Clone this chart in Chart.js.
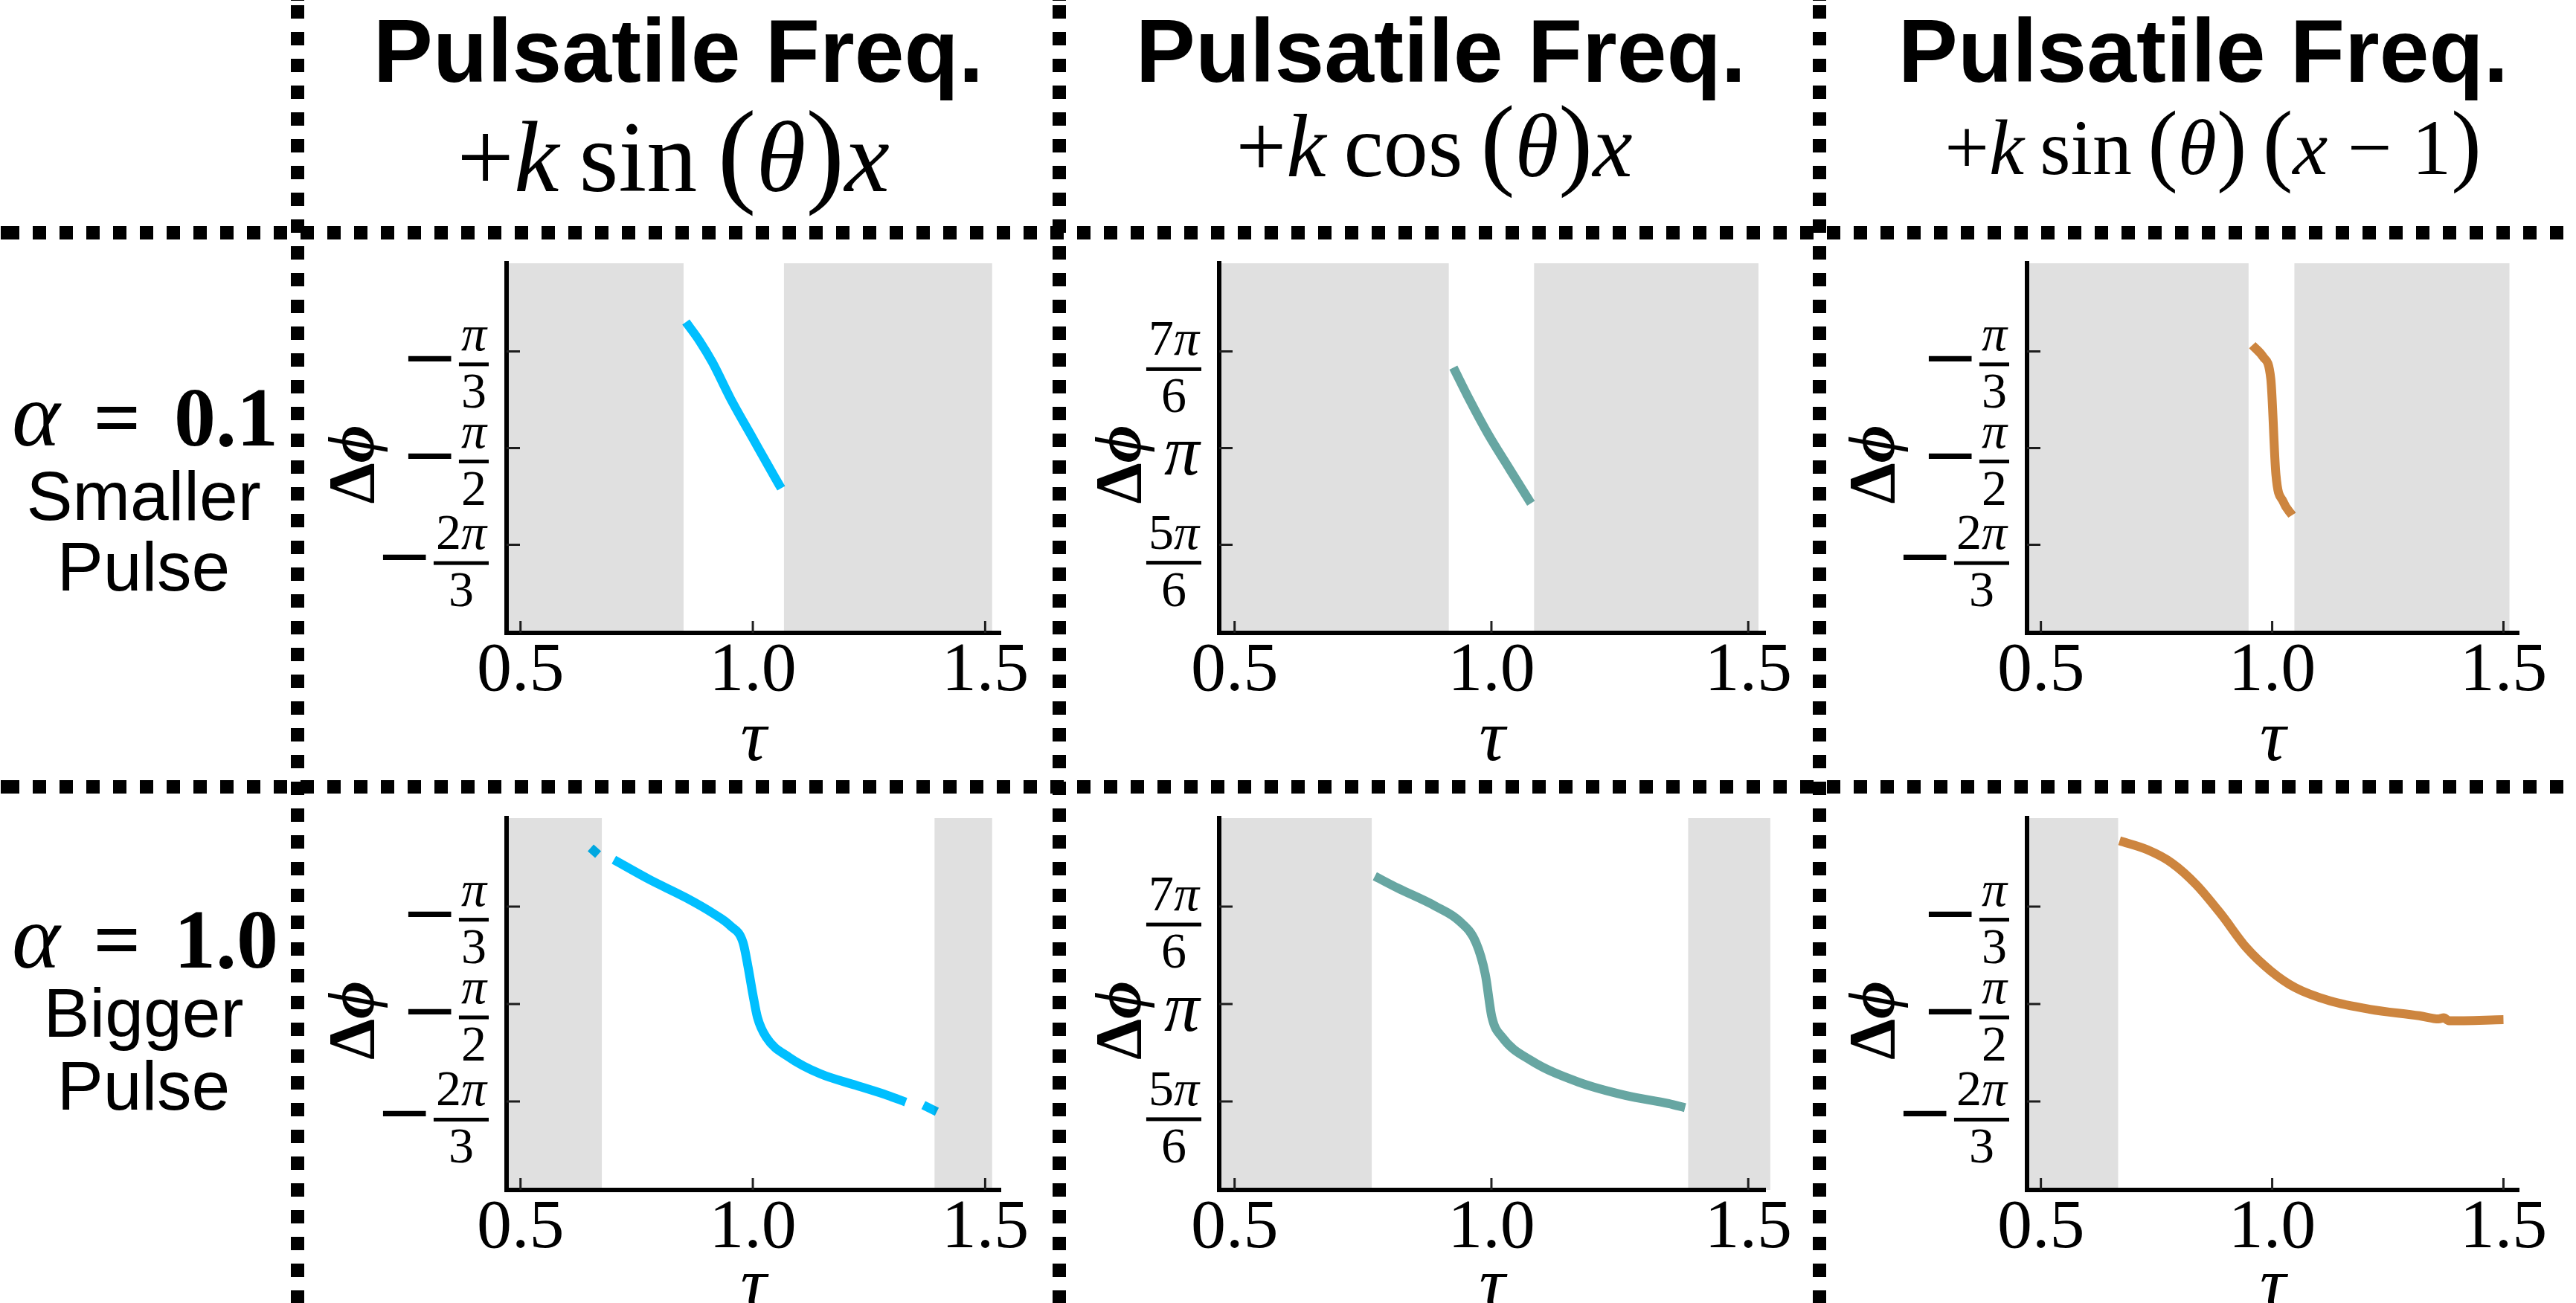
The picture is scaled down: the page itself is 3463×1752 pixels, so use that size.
<!DOCTYPE html>
<html>
<head>
<meta charset="utf-8">
<script src="https://cdn.jsdelivr.net/npm/chart.js@4.4.1/dist/chart.umd.min.js"></script>
<style>
  html, body { margin: 0; padding: 0; background: #fff; overflow: hidden; }
  #fig { position: relative; width: 3463px; height: 1752px; overflow: hidden; background: #fff; }
  #fig canvas { position: absolute; }
  .txt { position: absolute; white-space: nowrap; color: #000; transform: translateX(-50%); }
  .big { font-size: 1.15em; line-height: 0; }
  .vdot { position: absolute; top: 0; width: 18px; height: 1752px; z-index: 5;
          background: repeating-linear-gradient(to bottom, #000 0 18px, transparent 18px 36px);
          background-position: 0 7px; }
  .hdot { position: absolute; left: 0; width: 3463px; height: 18px; z-index: 5;
          background: repeating-linear-gradient(to right, #000 0 18px, transparent 18px 36px);
          background-position: 8px 0; }
</style>
</head>
<body>
<div id="fig"></div>
<script>
const PI = Math.PI;

// tau (x) and phase difference in radians (y)
const tauSinSmall = [0.856, 0.885, 0.913, 0.952, 1.000, 1.048, 1.061];
const phiSinSmall = [-0.889, -0.990, -1.107, -1.303, -1.518, -1.732, -1.788];
const tauCosSmall = [0.926, 0.957, 0.993, 1.035, 1.077];
const phiCosSmall = [3.577, 3.405, 3.220, 3.030, 2.843];
const tauShiftSmall = [0.957, 0.981, 0.997, 1.008, 1.024, 1.043];
const phiShiftSmall = [-1.014, -1.079, -1.196, -1.712, -1.861, -1.934];

const tauSinBig = [0.651, 0.667, 0.684, 0.701, 0.778, 0.856, 0.913, 0.952, 0.979, 0.990, 1.000,
                   1.010, 1.029, 1.078, 1.145, 1.222, 1.290, 1.329, 1.348, 1.367, 1.396];
const phiSinBig = [-0.731, -0.767, null, -0.795, -0.902, -0.999, -1.081, -1.151, -1.241, -1.375, -1.518,
                   -1.643, -1.750, -1.857, -1.946, -2.008, -2.062, -2.098, null, -2.114, -2.150];
const tauCosBig = [0.773, 0.817, 0.891, 0.938, 0.970, 0.988, 1.001, 1.021, 1.077, 1.169, 1.261, 1.345, 1.377];
const phiCosBig = [3.829, 3.766, 3.668, 3.587, 3.471, 3.302, 3.070, 2.963, 2.838, 2.722, 2.650, 2.606, 2.584];
const tauShiftBig = [0.670, 0.730, 0.783, 0.836, 0.890, 0.944, 0.997, 1.050, 1.125, 1.211, 1.318, 1.360, 1.371, 1.382, 1.500];
const phiShiftBig = [-0.693, -0.741, -0.812, -0.929, -1.089, -1.267, -1.393, -1.483, -1.554, -1.599, -1.634, -1.651, -1.645, -1.661, -1.655];

// shaded (grey) tau ranges
const greySinSmall = [[0.47, 0.851], [1.067, 1.515]];
const greyCosSmall = [[0.47, 0.917], [1.083, 1.520]];
const greyShiftSmall = [[0.47, 0.949], [1.048, 1.513]];
const greySinBig = [[0.47, 0.675], [1.391, 1.515]];
const greyCosBig = [[0.47, 0.767], [1.383, 1.543]];
const greyShiftBig = [[0.47, 0.667]];

const tauTicks = [0.5, 1.0, 1.5];
const sinTicks = [-PI / 3, -PI / 2, -2 * PI / 3];
const sinTickLabels = ['−π/3', '−π/2', '−2π/3'];
const cosTicks = [7 * PI / 6, PI, 5 * PI / 6];
const cosTickLabels = ['7π/6', 'π', '5π/6'];

const colTitle = 'Pulsatile Freq.';
const colFormulas = [
  '+<i>k</i>&thinsp;sin&thinsp;<span class="big">(</span><i>θ</i><span class="big">)</span><i>x</i>',
  '+<i>k</i>&thinsp;cos&thinsp;<span class="big">(</span><i>θ</i><span class="big">)</span><i>x</i>',
  '+<i>k</i>&thinsp;sin&thinsp;<span class="big">(</span><i>θ</i><span class="big">)</span>&thinsp;<span class="big">(</span><i>x</i> − 1<span class="big">)</span>'
];
const rowAlphas = ['0.1', '1.0'];
const rowNames = [['Smaller', 'Pulse'], ['Bigger', 'Pulse']];

const lineColors = ['#00bfff', '#67a6a2', '#cd853f'];

// page layout (pixels)
const colCanvas = [[410, 1415], [1434, 2437], [2456, 3460]];
const colArea = [[681, 1345], [1639, 2373], [2725, 3386]];
const rowCanvas = [[323, 1048], [1068, 1752]];
const rowArea = [[354, 851], [1100, 1600]];
const colCenters = [912, 1937, 2962];
const formulaPos = [[905, 257, 136], [1928, 237, 120], [2975, 235, 106]];
const labelGap = [200, 127, 200];
const tauLabelOff = [149, 136];

const fig = document.getElementById('fig');

function addText(html, cx, baseline, size, family, extra) {
  const d = document.createElement('div');
  d.className = 'txt';
  d.innerHTML = html;
  const k = family.indexOf('Sans') >= 0 ? 0.8465 : 0.8375;
  d.style.font = (extra || '') + ' ' + size + 'px/1 ' + family;
  d.style.left = cx + 'px';
  d.style.top = (baseline - k * size) + 'px';
  fig.appendChild(d);
}

// dotted separators
[400, 1424, 2446].forEach(x => {
  const d = document.createElement('div');
  d.className = 'vdot';
  d.style.left = (x - 9) + 'px';
  fig.appendChild(d);
});
[313, 1058].forEach(y => {
  const d = document.createElement('div');
  d.className = 'hdot';
  d.style.top = (y - 9) + 'px';
  fig.appendChild(d);
});

// column headers
colCenters.forEach((cx, i) => {
  addText(colTitle, cx, 110, 120, '"Liberation Sans", Arial, sans-serif', 'bold');
  const f = formulaPos[i];
  addText(colFormulas[i], f[0], f[1], f[2], '"Liberation Serif", "DejaVu Serif", serif');
});

// row labels
const rowBase = [[590, 700, 795], [1292, 1395, 1493]];
rowAlphas.forEach((a, r) => {
  addText('<i style="font-size:1.1em">α</i><b style="margin:0 0.4em">=</b><b>' + a + '</b>', 195, rowBase[r][0], 112,
          '"Liberation Serif", "DejaVu Serif", serif');
  addText(rowNames[r][0], 193, rowBase[r][1], 93, '"Liberation Sans", Arial, sans-serif');
  addText(rowNames[r][1], 193, rowBase[r][2], 93, '"Liberation Sans", Arial, sans-serif');
});

const SERIF = '"Liberation Serif", "DejaVu Serif", serif';

function runsOf(s, size) {
  const runs = [];
  const m = s.match(/^(\d*)(π?)$/);
  if (m[1]) runs.push({ t: m[1], f: size + 'px ' + SERIF });
  if (m[2]) runs.push({ t: m[2], f: 'italic ' + size + 'px ' + SERIF });
  return runs;
}

function measureRuns(ctx, runs) {
  let w = 0, asc = 0, desc = 0;
  runs.forEach(r => {
    ctx.font = r.f;
    const m = ctx.measureText(r.t);
    r.w = m.width;
    w += m.width;
    asc = Math.max(asc, m.actualBoundingBoxAscent);
    desc = Math.max(desc, m.actualBoundingBoxDescent);
  });
  return { w, asc, desc };
}

function drawRuns(ctx, runs, cx, baseline) {
  const { w } = measureRuns(ctx, runs);
  let x = cx - w / 2;
  ctx.textAlign = 'left';
  ctx.textBaseline = 'alphabetic';
  runs.forEach(r => {
    ctx.font = r.f;
    ctx.fillText(r.t, x, baseline);
    x += r.w;
  });
}

function drawTickLabel(ctx, label, R, py) {
  ctx.fillStyle = '#000';
  const neg = label.startsWith('−');
  const body = neg ? label.slice(1) : label;
  if (body.indexOf('/') < 0) {
    ctx.font = 'italic 95px ' + SERIF;
    const m = ctx.measureText(body);
    ctx.textAlign = 'left';
    ctx.textBaseline = 'alphabetic';
    ctx.fillText(body, R - m.actualBoundingBoxRight, py + 14 + (m.actualBoundingBoxAscent - m.actualBoundingBoxDescent) / 2);
    return;
  }
  const [num, den] = body.split('/');
  const nr = runsOf(num, 68), dr = runsOf(den, 68);
  const nm = measureRuns(ctx, nr), dm = measureRuns(ctx, dr);
  const barW = Math.max(nm.w, dm.w) + 6;
  const barL = R - barW;
  const cx = R - barW / 2;
  const barY = py + 22 + (20 + nm.asc - 14 - dm.asc - dm.desc) / 2;
  ctx.fillRect(barL, barY - 2.5, barW, 5);
  drawRuns(ctx, nr, cx, barY - 19);
  drawRuns(ctx, dr, cx, barY + 13 + dm.asc);
  if (neg) {
    ctx.font = '92px "DejaVu Serif", serif';
    const m = ctx.measureText('−');
    ctx.textAlign = 'left';
    ctx.textBaseline = 'alphabetic';
    const base = barY - 8 + (m.actualBoundingBoxAscent - m.actualBoundingBoxDescent) / 2;
    ctx.fillText('−', barL - 10 - m.actualBoundingBoxRight, base);
  }
}

function panelPlugin(p) {
  return {
    id: 'panel' + p.row + p.col,
    beforeDatasetsDraw(chart) {
      const { ctx, chartArea: a, scales } = chart;
      ctx.save();
      ctx.strokeStyle = '#222';
      ctx.lineWidth = 3;
      ctx.beginPath();
      tauTicks.forEach(v => {
        const x = scales.x.getPixelForValue(v);
        ctx.moveTo(x, a.bottom);
        ctx.lineTo(x, a.bottom - 16);
      });
      p.yTicks.forEach(v => {
        const y = scales.y.getPixelForValue(v);
        ctx.moveTo(a.left, y);
        ctx.lineTo(a.left + 18, y);
      });
      ctx.stroke();
      ctx.restore();
    },
    afterDatasetsDraw(chart) {
      const { ctx, chartArea: a, scales } = chart;
      ctx.save();
      ctx.fillStyle = 'rgba(0,0,0,0.12)';
      p.grey.forEach(([lo, hi]) => {
        const x1 = Math.max(scales.x.getPixelForValue(lo), a.left + 3);
        const x2 = scales.x.getPixelForValue(hi);
        ctx.fillRect(x1, a.top, x2 - x1, a.bottom - a.top);
      });
      ctx.restore();
    },
    afterDraw(chart) {
      const { ctx, chartArea: a, scales } = chart;
      ctx.save();
      p.yTicks.forEach((v, i) => {
        drawTickLabel(ctx, p.yLabels[i], a.left - 24, scales.y.getPixelForValue(v));
      });
      // y label
      const runs = [{ t: 'Δ', f: 'bold 88px ' + SERIF }, { t: 'ϕ', f: 'bold italic 88px ' + SERIF }];
      const m = measureRuns(ctx, runs);
      ctx.translate(a.left - labelGap[p.col], (a.top + a.bottom) / 2 + 22);
      ctx.rotate(-PI / 2);
      drawRuns(ctx, runs, 0, (m.asc - m.desc) / 2);
      ctx.restore();
      // x label
      ctx.save();
      ctx.font = 'italic 98px ' + SERIF;
      const t = ctx.measureText('τ');
      ctx.fillStyle = '#000';
      ctx.textAlign = 'center';
      ctx.textBaseline = 'alphabetic';
      ctx.fillText('τ', (a.left + a.right) / 2,
        a.bottom + tauLabelOff[p.row] + (t.actualBoundingBoxAscent - t.actualBoundingBoxDescent) / 2);
      ctx.restore();
    }
  };
}

function makePanel(p) {
  const [cl, cr] = colCanvas[p.col], [al, ar] = colArea[p.col];
  const [ct, cb] = rowCanvas[p.row], [at, ab] = rowArea[p.row];
  const cv = document.createElement('canvas');
  cv.width = cr - cl;
  cv.height = cb - ct;
  cv.style.left = cl + 'px';
  cv.style.top = ct + 'px';
  fig.appendChild(cv);
  const pts = p.tau.map((t, i) => ({ x: t, y: p.phi[i] }));
  new Chart(cv, {
    type: 'line',
    data: {
      datasets: [{
        data: pts,
        borderColor: p.color,
        borderWidth: 12,
        pointRadius: 0,
        fill: false,
        spanGaps: false,
        cubicInterpolationMode: 'monotone'
      }]
    },
    options: {
      responsive: false,
      animation: false,
      devicePixelRatio: 1,
      layout: { padding: { left: 0, top: at - ct, right: cr - ar, bottom: 0 } },
      plugins: { legend: { display: false }, tooltip: { enabled: false } },
      scales: {
        x: {
          type: 'linear', min: 0.47, max: 1.533,
          afterFit: s => { s.height = cb - ab; },
          afterBuildTicks: s => { s.ticks = tauTicks.map(v => ({ value: v })); },
          grid: { display: false, drawTicks: false },
          border: { display: true, color: '#000', width: 6 },
          ticks: {
            color: '#000', padding: 0, maxRotation: 0, autoSkip: false,
            font: { family: 'Liberation Serif', size: 94, lineHeight: 1.12 },
            callback: v => Number(v).toFixed(1)
          }
        },
        y: {
          type: 'linear', min: p.mid - 1, max: p.mid + 1,
          afterFit: s => { s.width = al - cl; },
          afterBuildTicks: s => { s.ticks = p.yTicks.map(v => ({ value: v })); },
          grid: { display: false, drawTicks: false },
          border: { display: true, color: '#000', width: 6 },
          ticks: { display: false }
        }
      }
    },
    plugins: [panelPlugin(p)]
  });
}

const panels = [
  { row: 0, col: 0, tau: tauSinSmall, phi: phiSinSmall, grey: greySinSmall },
  { row: 0, col: 1, tau: tauCosSmall, phi: phiCosSmall, grey: greyCosSmall },
  { row: 0, col: 2, tau: tauShiftSmall, phi: phiShiftSmall, grey: greyShiftSmall },
  { row: 1, col: 0, tau: tauSinBig, phi: phiSinBig, grey: greySinBig },
  { row: 1, col: 1, tau: tauCosBig, phi: phiCosBig, grey: greyCosBig },
  { row: 1, col: 2, tau: tauShiftBig, phi: phiShiftBig, grey: greyShiftBig }
];

panels.forEach(p => {
  const cos = p.col === 1;
  p.color = lineColors[p.col];
  p.mid = cos ? PI : -PI / 2;
  p.yTicks = cos ? cosTicks : sinTicks;
  p.yLabels = cos ? cosTickLabels : sinTickLabels;
  makePanel(p);
});
</script>
</body>
</html>
